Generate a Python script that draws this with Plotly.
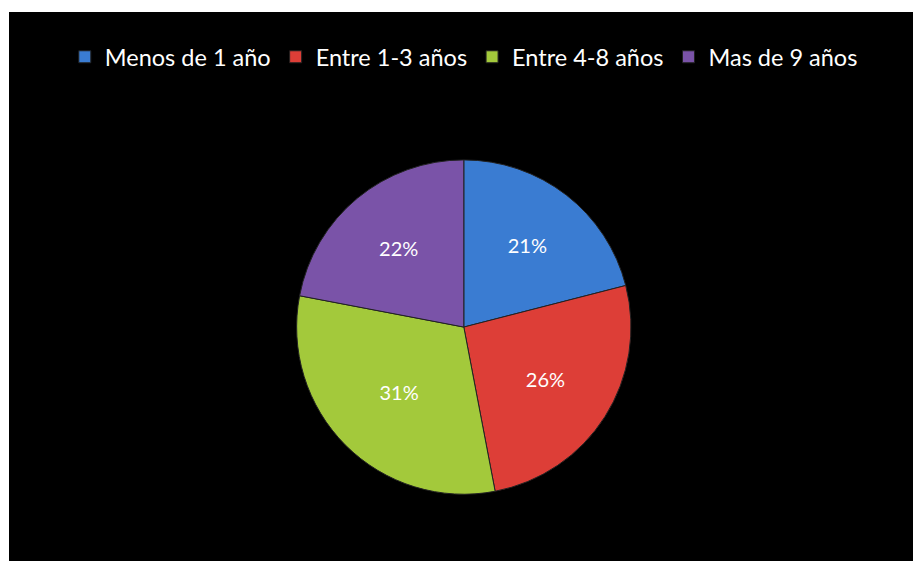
import plotly.graph_objects as go

labels = ["Menos de 1 año", "Entre 1-3 años", "Entre 4-8 años", "Mas de 9 años"]
values = [21, 26, 31, 22]
colors = ["#3a7cd2", "#dd3e37", "#a3c93b", "#7a53a8"]

W, H = 913, 561

fig = go.Figure()
fig.add_trace(go.Pie(
    labels=labels,
    values=values,
    sort=False,
    direction="clockwise",
    rotation=0,
    marker=dict(colors=colors, line=dict(color="#222222", width=1)),
    textinfo="percent",
    texttemplate="%{percent:.0%}",
    textposition="inside",
    insidetextorientation="horizontal",
    textfont=dict(color="white", size=20, family="Lato"),
    domain=dict(x=[0.289, 0.727], y=[0.119, 0.715]),
    hoverinfo="label+percent",
))

# black chart area, thin white strip left and top
fig.add_shape(type="rect", xref="paper", yref="paper",
              x0=9 / W, x1=1.01, y0=-0.01, y1=1 - 12 / H,
              fillcolor="black", line_width=0, layer="below")

fig.update_layout(
    width=W, height=H,
    margin=dict(l=0, r=0, t=0, b=0),
    paper_bgcolor="white",
    font=dict(family="Lato", color="white"),
    showlegend=True,
    legend=dict(orientation="h", x=0.508, xanchor="center", y=1 - 57 / H, yanchor="middle",
                font=dict(size=23.5, color="white"), bgcolor="rgba(0,0,0,0)",
                traceorder="normal"),
)

# drop the default page margin so the figure sits at the window corner
fig.write_html("out.html", config={"displayModeBar": False},
               post_script="document.body.style.margin='0px';"
                           "document.documentElement.style.overflow='hidden';")
